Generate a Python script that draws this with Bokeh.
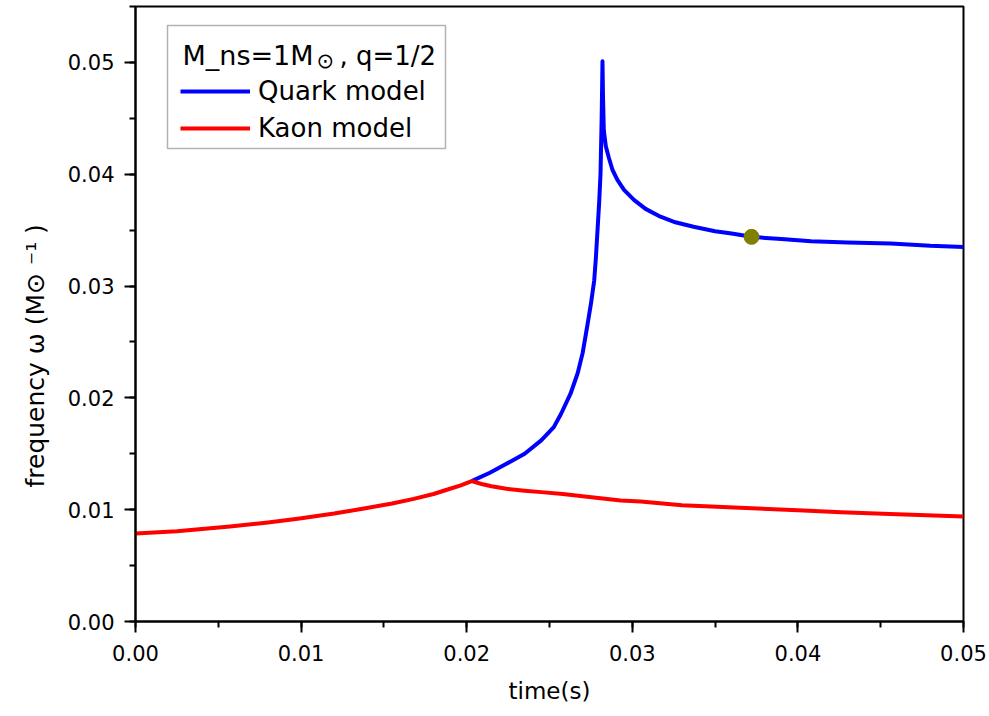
import math
from bokeh.plotting import figure
from bokeh.models import (Range1d, SingleIntervalTicker, PrintfTickFormatter, Legend, LegendItem,
                          Label, BoxAnnotation, ColumnDataSource, Title)
from bokeh.embed import file_html
from bokeh.resources import INLINE

# ---- data ----
quark_t = [0.0203, 0.0214, 0.0224, 0.0235, 0.0245, 0.02526, 0.0257, 0.02627, 0.0267, 0.0270,
           0.0273, 0.0275, 0.0277, 0.0278, 0.0279, 0.0280, 0.02808, 0.02815, 0.0282,
           0.02823, 0.02828, 0.0284, 0.02858, 0.0288, 0.0291, 0.0295, 0.0301, 0.0308, 0.0317,
           0.0326, 0.0337, 0.0350, 0.0360, 0.0372, 0.0390, 0.0408, 0.0430, 0.0456, 0.0480, 0.0500]
quark_f = [0.01255, 0.0133, 0.0141, 0.0150, 0.0162, 0.01738, 0.01858, 0.02037, 0.0222, 0.0240,
           0.0266, 0.0284, 0.0305, 0.0325, 0.0350, 0.0375, 0.0400, 0.0450, 0.0501,
           0.0470, 0.0439, 0.0425, 0.0415, 0.0404, 0.0395, 0.0386, 0.0377, 0.0369, 0.0362,
           0.0357, 0.0353, 0.0349, 0.0347, 0.0344, 0.0342, 0.0340, 0.0339, 0.0338, 0.0336, 0.0335]

kaon_t = [0.0, 0.0025, 0.0057, 0.0080, 0.0098, 0.0120, 0.0138, 0.0155, 0.0168, 0.0180, 0.0188,
          0.0196, 0.0203, 0.0209, 0.0215, 0.0224, 0.0235, 0.0245, 0.0258, 0.0270, 0.0293,
          0.0305, 0.0330, 0.0365, 0.0400, 0.0426, 0.0460, 0.0500]
kaon_f = [0.00787, 0.00808, 0.0085, 0.00885, 0.00918, 0.00965, 0.01011, 0.01055, 0.01097,
          0.01140, 0.01178, 0.01215, 0.01255, 0.0123, 0.0121, 0.01187, 0.0117, 0.01157, 0.0114,
          0.0112, 0.01082, 0.01073, 0.0104, 0.01017, 0.00995, 0.00978, 0.0096, 0.00938]

marker_t = [0.0372]
marker_f = [0.0344]

x_ticks_interval = 0.01
y_ticks_interval = 0.01

FONT = "DejaVu Sans"

p = figure(width=989, height=716, output_backend="svg", toolbar_location=None,
           x_range=Range1d(0, 0.05), y_range=Range1d(0, 0.055),
           min_border_left=135, min_border_right=26, min_border_top=6, min_border_bottom=95)

p.xgrid.visible = False
p.ygrid.visible = False
p.outline_line_color = "black"
p.outline_line_width = 2
p.background_fill_color = "white"
p.border_fill_color = "white"

for ax, interval in ((p.xaxis[0], x_ticks_interval), (p.yaxis[0], y_ticks_interval)):
    ax.ticker = SingleIntervalTicker(interval=interval, num_minor_ticks=2)
    ax.formatter = PrintfTickFormatter(format="%.2f")
    ax.axis_line_width = 2
    ax.axis_line_color = "black"
    ax.major_tick_line_width = 2
    ax.minor_tick_line_width = 2
    ax.major_tick_out = 11
    ax.major_tick_in = 0
    ax.minor_tick_out = 6
    ax.minor_tick_in = 0
    ax.major_label_text_font = FONT
    ax.major_label_text_font_size = "21px"
    ax.major_label_text_color = "black"

p.xaxis.major_label_standoff = 12
p.yaxis.major_label_standoff = 10
p.xaxis.axis_label = "time(s)"
p.xaxis.axis_label_text_font = FONT
p.xaxis.axis_label_text_font_size = "23px"
p.xaxis.axis_label_text_font_style = "normal"
p.xaxis.axis_label_text_color = "black"
p.xaxis.axis_label_standoff = 14

# y axis label as a left-side title, offset toward the bottom like the reference
p.add_layout(Title(text="frequency ω  (M⊙ ⁻¹ )", align="left", offset=134,
                   text_font=FONT, text_font_size="25px", text_font_style="normal",
                   text_color="black", standoff=30), "left")

src_q = ColumnDataSource(dict(t=quark_t, f=quark_f))
src_k = ColumnDataSource(dict(t=kaon_t, f=kaon_f))
rq = p.line("t", "f", source=src_q, line_color="#0000ff", line_width=4, line_join="round")
rk = p.line("t", "f", source=src_k, line_color="#ff0000", line_width=4, line_join="round")
p.scatter(marker_t, marker_f, size=15, color="#808000")

# legend box
p.add_layout(BoxAnnotation(left=32, right=310, top=596, bottom=473,
                           left_units="screen", right_units="screen",
                           top_units="screen", bottom_units="screen",
                           fill_color="white", fill_alpha=1.0,
                           line_color="black", line_width=1.5))

# legend title pieces
p.add_layout(Label(x=47, y=566, x_units="screen", y_units="screen", text="M_ns=1M",
                   text_font=FONT, text_font_size="27px", text_baseline="alphabetic",
                   text_color="black"))
p.add_layout(Label(x=181, y=561, x_units="screen", y_units="screen", text="⊙",
                   text_font=FONT, text_font_size="21px", text_baseline="middle",
                   text_color="black"))
p.add_layout(Label(x=204, y=566, x_units="screen", y_units="screen", text=", q=1/2",
                   text_font=FONT, text_font_size="26px", text_baseline="alphabetic",
                   text_color="black"))

legend = Legend(items=[LegendItem(label="Quark model", renderers=[rq]),
                       LegendItem(label="Kaon model", renderers=[rk])],
                location=(45, 478), padding=0, margin=0, spacing=7,
                glyph_width=70, glyph_height=30, label_height=30, label_standoff=8,
                label_text_font=FONT, label_text_font_size="26px", label_text_color="black",
                border_line_alpha=0, background_fill_alpha=0)
p.add_layout(legend)

open("out.html", "w").write(file_html(p, INLINE))
